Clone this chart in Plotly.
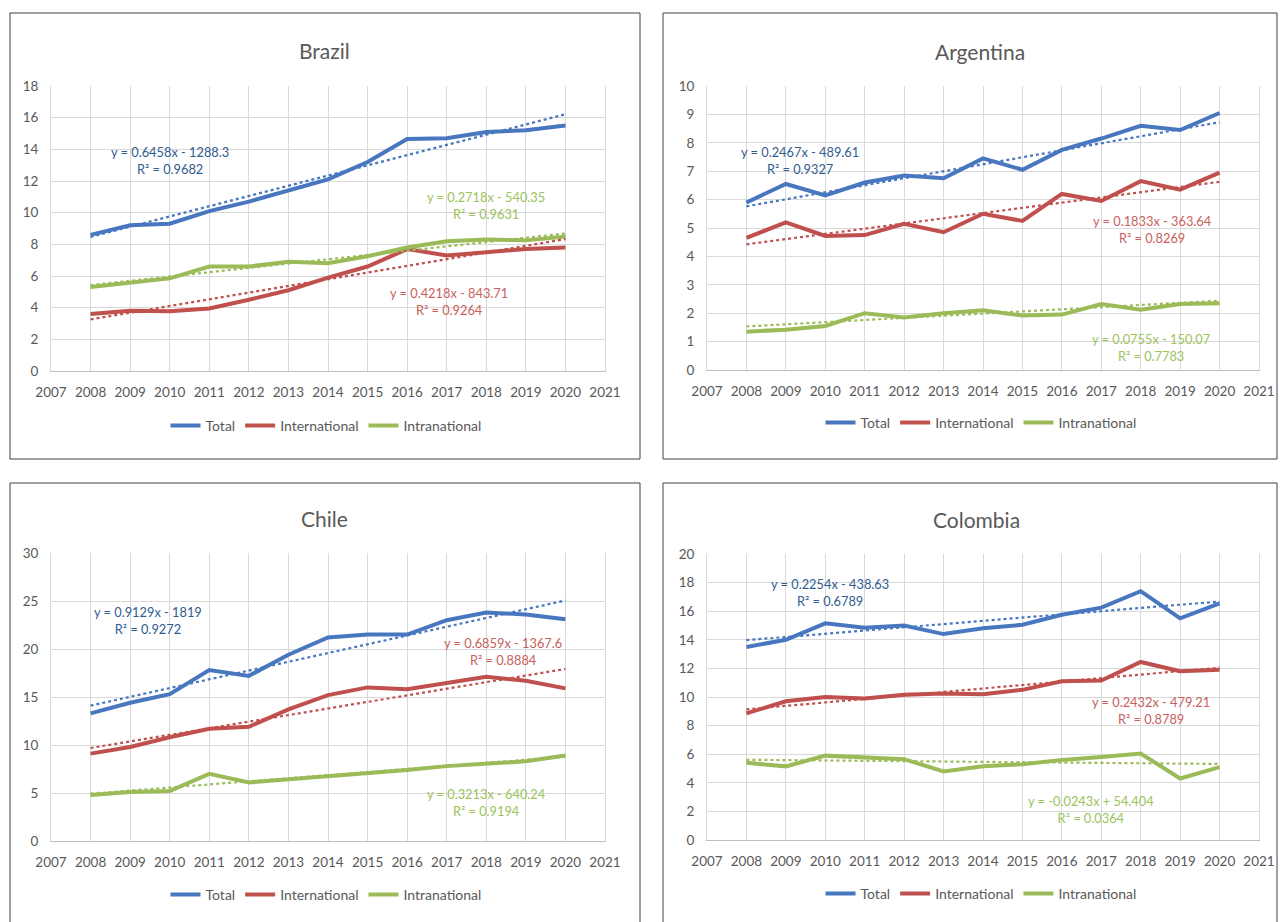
import plotly.graph_objects as go

# ---- data -------------------------------------------------------------
years = [2008, 2009, 2010, 2011, 2012, 2013, 2014, 2015, 2016, 2017, 2018, 2019, 2020]
series_names = ["Total", "International", "Intranational"]

brazil_total = [8.6, 9.2, 9.3, 10.1, 10.7, 11.4, 12.1, 13.2, 14.65, 14.7, 15.1, 15.2, 15.5]
brazil_intl = [3.6, 3.8, 3.78, 3.95, 4.5, 5.1, 5.9, 6.6, 7.7, 7.3, 7.5, 7.7, 7.8]
brazil_intra = [5.3, 5.6, 5.85, 6.6, 6.6, 6.9, 6.8, 7.25, 7.8, 8.2, 8.3, 8.25, 8.5]

argentina_total = [5.9, 6.55, 6.15, 6.6, 6.85, 6.75, 7.45, 7.05, 7.75, 8.15, 8.6, 8.45, 9.05]
argentina_intl = [4.65, 5.2, 4.72, 4.75, 5.15, 4.85, 5.5, 5.25, 6.2, 5.95, 6.65, 6.35, 6.95]
argentina_intra = [1.35, 1.42, 1.55, 2.0, 1.85, 2.0, 2.1, 1.92, 1.95, 2.32, 2.12, 2.32, 2.35]

chile_total = [13.3, 14.4, 15.3, 17.8, 17.2, 19.4, 21.2, 21.5, 21.5, 23.0, 23.8, 23.6, 23.1]
chile_intl = [9.1, 9.8, 10.8, 11.7, 11.9, 13.7, 15.2, 16.0, 15.8, 16.5, 17.1, 16.7, 15.9]
chile_intra = [4.8, 5.1, 5.2, 7.0, 6.1, 6.4, 6.8, 7.0, 7.4, 7.8, 8.1, 8.3, 8.9]

colombia_total = [13.5, 14.0, 15.15, 14.85, 15.0, 14.4, 14.8, 15.05, 15.75, 16.25, 17.4, 15.5, 16.55]
colombia_intl = [8.85, 9.7, 10.0, 9.9, 10.15, 10.25, 10.2, 10.5, 11.1, 11.15, 12.45, 11.8, 11.9]
colombia_intra = [5.4, 5.15, 5.9, 5.75, 5.65, 4.8, 5.15, 5.3, 5.6, 5.8, 6.05, 4.3, 5.1]

# linear trend fits: slope, intercept, R^2 (Total, International, Intranational)
brazil_slope = [0.6458, 0.4218, 0.2718]
brazil_intercept = [-1288.3, -843.71, -540.35]
brazil_r2 = ["0.9682", "0.9264", "0.9631"]

argentina_slope = [0.2467, 0.1833, 0.0755]
argentina_intercept = [-489.61, -363.64, -150.07]
argentina_r2 = ["0.9327", "0.8269", "0.7783"]

chile_slope = [0.9129, 0.6859, 0.3213]
chile_intercept = [-1819, -1367.6, -640.24]
chile_r2 = ["0.9272", "0.8884", "0.9194"]

colombia_slope = [0.2254, 0.2432, -0.0243]
colombia_intercept = [-438.63, -479.21, 54.404]
colombia_r2 = ["0.6789", "0.8789", "0.0364"]

# ---- styling ----------------------------------------------------------
W, H = 1282, 922
FONT = "Lato"
TEXT_GREY = "#595959"
GRID = "#d9d9d9"
line_colors = ["#4877C0", "#C0504D", "#9BBB59"]
label_colors = ["#2F5C8F", "#C9605D", "#9BC35A"]


def px_x(px):
    return px / W


def px_y(py):
    return 1 - py / H


panels = [
    dict(name="Brazil", data=[brazil_total, brazil_intl, brazil_intra],
         slope=brazil_slope, icpt=brazil_intercept, r2=brazil_r2,
         box=(10, 13, 640, 459), plot=(51, 86, 605, 371), ymax=18, dtick=2,
         title_xy=(325, 50), legend_xy=(326, 426),
         label_pos=[(2010.0, 13.27), (2017.06, 4.36), (2018.0, 10.45)]),
    dict(name="Argentina", data=[argentina_total, argentina_intl, argentina_intra],
         slope=argentina_slope, icpt=argentina_intercept, r2=argentina_r2,
         box=(663, 13, 1277, 459), plot=(707, 86, 1259, 370), ymax=10, dtick=1,
         title_xy=(980, 51), legend_xy=(981, 423),
         label_pos=[(2009.36, 7.36), (2018.31, 4.93), (2018.26, 0.81)]),
    dict(name="Chile", data=[chile_total, chile_intl, chile_intra],
         slope=chile_slope, icpt=chile_intercept, r2=chile_r2,
         box=(10, 483, 640, 930), plot=(51, 553, 605, 841), ymax=30, dtick=5,
         title_xy=(324, 518), legend_xy=(326, 895),
         label_pos=[(2009.45, 23.0), (2018.42, 19.7), (2018.0, 3.96)]),
    dict(name="Colombia", data=[colombia_total, colombia_intl, colombia_intra],
         slope=colombia_slope, icpt=colombia_intercept, r2=colombia_r2,
         box=(663, 483, 1277, 930), plot=(707, 554, 1259, 840), ymax=20, dtick=2,
         title_xy=(977, 519), legend_xy=(981, 894),
         label_pos=[(2010.12, 17.34), (2018.26, 9.09), (2016.74, 2.1)]),
]


def fmt_num(v):
    s = repr(v)
    return s[:-2] if s.endswith(".0") else s


def equation(m, b):
    sign = "-" if b < 0 else "+"
    return f"y = {fmt_num(m)}x {sign} {fmt_num(abs(b))}"


fig = go.Figure()
shapes, annotations = [], []
layout_extra = {}

for i, p in enumerate(panels, start=1):
    xa = "x" if i == 1 else f"x{i}"
    ya = "y" if i == 1 else f"y{i}"
    leg = "legend" if i == 1 else f"legend{i}"
    x0, y0, x1, y1 = p["plot"]

    # series lines
    for k, vals in enumerate(p["data"]):
        fig.add_trace(go.Scatter(
            x=years, y=vals, mode="lines", name=series_names[k],
            line=dict(color=line_colors[k], width=4),
            xaxis=xa, yaxis=ya, legend=leg, showlegend=True,
        ))
    # dotted linear trend lines
    for k in range(3):
        m, b = p["slope"][k], p["icpt"][k]
        tx = [years[0], years[-1]]
        fig.add_trace(go.Scatter(
            x=tx, y=[m * t + b for t in tx], mode="lines",
            line=dict(color=line_colors[k], width=2.2, dash="dot"),
            xaxis=xa, yaxis=ya, showlegend=False, hoverinfo="skip",
        ))
        lx, ly = p["label_pos"][k]
        annotations.append(dict(
            x=lx, y=ly, xref=xa, yref=ya, showarrow=False,
            text=f"{equation(m, b)}<br>R² = {p['r2'][k]}",
            font=dict(family=FONT, size=12.8, color=label_colors[k]),
            align="center", xanchor="center", yanchor="middle",
        ))

    layout_extra["xaxis" if i == 1 else f"xaxis{i}"] = dict(
        domain=[px_x(x0), px_x(x1)], anchor=ya, range=[2007, 2021],
        tick0=2007, dtick=1, showgrid=True, gridcolor=GRID, gridwidth=1,
        showline=True, linecolor="#bfbfbf", linewidth=1, mirror=False,
        zeroline=False, ticks="", ticklabelstandoff=9, automargin=False,
        tickfont=dict(family=FONT, size=13.5, color=TEXT_GREY),
    )
    layout_extra["yaxis" if i == 1 else f"yaxis{i}"] = dict(
        domain=[px_y(y1), px_y(y0)], anchor=xa, range=[0, p["ymax"]],
        tick0=0, dtick=p["dtick"], showgrid=True, gridcolor=GRID, gridwidth=1,
        showline=True, linecolor=GRID, linewidth=1, mirror=True,
        zeroline=False, ticks="", ticklabelstandoff=9, automargin=False,
        tickfont=dict(family=FONT, size=13.5, color=TEXT_GREY),
    )
    lx, ly = p["legend_xy"]
    layout_extra[leg] = dict(
        x=px_x(lx), y=px_y(ly), xanchor="center", yanchor="middle",
        orientation="h", bgcolor="rgba(0,0,0,0)",
        font=dict(family=FONT, size=14, color=TEXT_GREY),
        itemwidth=30, tracegroupgap=0,
    )

    # chart frame
    bx0, by0, bx1, by1 = p["box"]
    shapes.append(dict(type="rect", xref="paper", yref="paper",
                       x0=px_x(bx0), x1=px_x(bx1), y0=px_y(by1), y1=px_y(by0),
                       line=dict(color="#404040", width=1), layer="below"))
    tx, ty = p["title_xy"]
    annotations.append(dict(
        x=px_x(tx), y=px_y(ty), xref="paper", yref="paper", showarrow=False,
        text=p["name"], xanchor="center", yanchor="middle",
        font=dict(family=FONT, size=21, color=TEXT_GREY),
    ))

fig.update_layout(
    width=W, height=H, autosize=False,
    margin=dict(l=0, r=0, t=0, b=0, pad=0, autoexpand=False),
    paper_bgcolor="white", plot_bgcolor="white",
    shapes=shapes, annotations=annotations,
    hovermode=False,
    **layout_extra,
)

fig.write_html("out.html")
